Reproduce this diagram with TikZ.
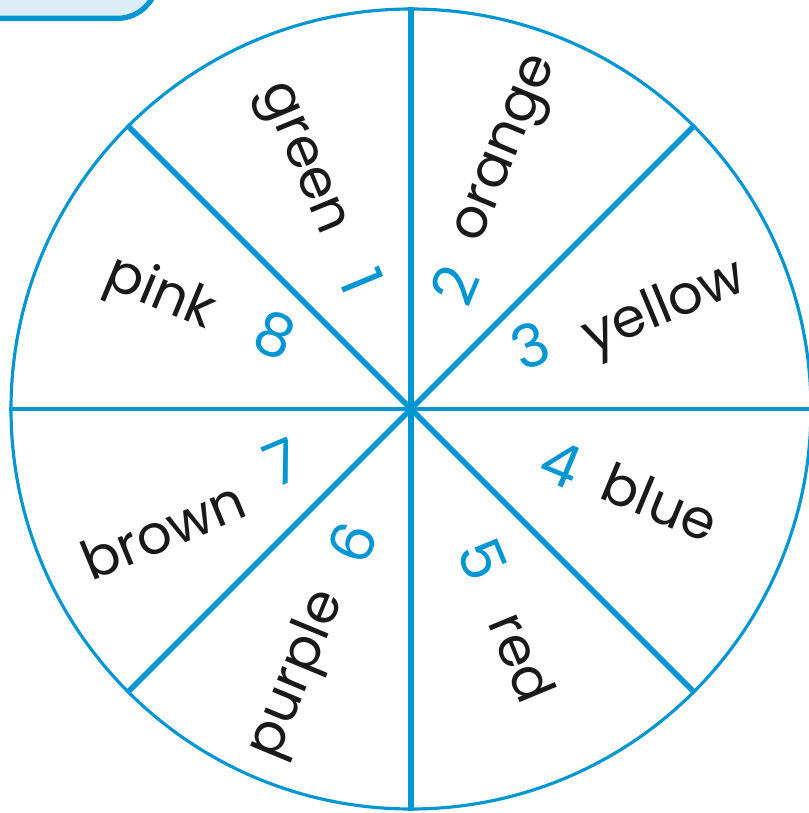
\documentclass[tikz,border=0pt]{standalone}
\usepackage{fontspec}
\setmainfont{Poppins}
\definecolor{wheelblue}{RGB}{0,150,212}
\definecolor{tabfill}{RGB}{221,237,247}
\tikzset{
  tabbox/.style={draw=wheelblue, fill=tabfill, line width=1.5pt, rounded corners=0.4cm},
  numlabel/.style={text=wheelblue, font=\fontsize{17}{20}\selectfont, inner sep=1pt},
  wordlabel/.style={text=black!90, font=\fontsize{15.5}{18}\selectfont, inner sep=1pt},
  spoke/.style={draw=wheelblue, line width=1.6pt},
  thinspoke/.style={draw=wheelblue, line width=0.9pt},
}

\begin{document}
\begin{tikzpicture}
  \useasboundingbox (-4.11,-4.04) rectangle (3.98,4.09);
  % tab at the top left
  \node[tabbox, minimum width=2.3cm, minimum height=1cm, anchor=south east] (tab) at (-2.51,3.88) {};
  % the wheel
  \node[circle, draw=wheelblue, line width=0.9pt, minimum size=8cm, inner sep=0pt] (wheel) at (0,0) {};
  \draw[thinspoke] (wheel.west) -- (wheel.east);
  \draw[spoke] (wheel.north) -- (wheel.south);
  \draw[spoke] (wheel.45) -- (wheel.225);
  \draw[spoke] (wheel.135) -- (wheel.315);
  % numbers and colour words
  \foreach \n/\word/\rot/\na/\nr/\wa/\wr in {
      1/green/-67.5/111/1.37/114.4/2.73,
      2/orange/67.5/70.5/1.31/69/2.77,
      3/yellow/22.5/28/1.35/21.3/2.73,
      4/blue/-22.5/-20/1.60/-20.5/2.66,
      5/red/-67.5/-64.5/1.67/-65.7/2.72,
      6/purple/67.5/-113.8/1.46/-113/2.89,
      7/brown/22.5/-157.5/1.39/-154/2.76,
      8/pink/-22.5/151.4/1.55/155.6/2.76} {
    \node[numlabel, rotate=\rot] (n\n) at (\na:\nr) {\n};
    \node[wordlabel, rotate=\rot] (w\n) at (\wa:\wr) {\word};
  }
\end{tikzpicture}
\end{document}
